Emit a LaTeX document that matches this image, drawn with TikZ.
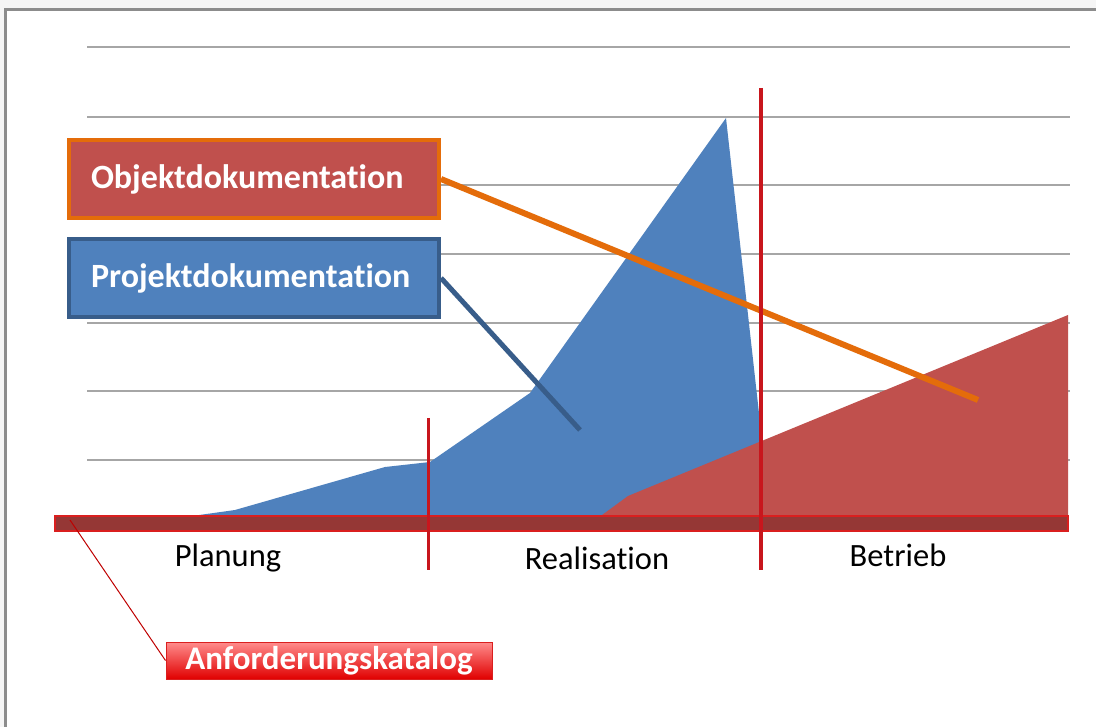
\documentclass[tikz,border=0pt]{standalone}
\usepackage{fontspec}
\setmainfont{Carlito}[Ligatures=NoCommon]
\definecolor{blauflaeche}{HTML}{4F81BD}
\definecolor{blaurand}{HTML}{385D8A}
\definecolor{rotflaeche}{HTML}{C0504D}
\definecolor{orangerand}{HTML}{E46C0A}
\definecolor{balken}{HTML}{953735}
\definecolor{balkenrand}{HTML}{DA1F1F}
\definecolor{phasenrot}{HTML}{C8161D}
\definecolor{gitter}{HTML}{A6A6A6}
\definecolor{rahmen}{HTML}{8C8C8C}
\definecolor{hintergrund}{HTML}{F5F5F5}

\begin{document}
\begin{tikzpicture}[x=1pt,y=-1pt,
		kasten/.style={rectangle, line width=4, minimum height=78, text width=326, inner xsep=22, inner ysep=0, text=white, align=left, font=\fontsize{34}{40}\selectfont\bfseries},
		phase/.style={font=\fontsize{32.5}{39}\selectfont}]
			\useasboundingbox (0,0) rectangle (1096,727);
			\fill [hintergrund] (0,0) rectangle (1096,727);
			\draw [rahmen, fill=white, line width=3] (5,10) rectangle (1110,740);
			\foreach \y in {47,117,185,254,323,391,460}
				\draw [gitter, line width=2] (87,\y) -- (1070,\y);
			\fill [blauflaeche] (185,517) -- (235,510) -- (385,467) -- (430,462) -- (530,393) -- (726,118) -- (762,440) -- (762,517) -- cycle;
			\fill [rotflaeche] (598,518) -- (628,496) -- (1068,315) -- (1068,518) -- cycle;
			\draw [balkenrand, fill=balken, line width=1.5] (55,516) rectangle (1068,531);
			\node [kasten, draw=orangerand, fill=rotflaeche] (obj) at (254,179) {Objektdokumentation};
			\node [kasten, draw=blaurand, fill=blauflaeche] (proj) at (254,278) {Projektdokumentation};
			\coordinate (objend) at (978,400);
			\coordinate (projend) at (580,430);
			\draw [orangerand, line width=6] (obj.east) -- (objend);
			\draw [blaurand, line width=5] (proj.east) -- (projend);
			\draw [phasenrot, line width=3] (428,418) -- (428,570);
			\draw [phasenrot, line width=3.5] (761,88) -- (761,570);
			\node [phase] (planung) at (228,558) {Planung};
			\node [phase] (realisation) at (597,558) {Realisation};
			\node [phase] (betrieb) at (898,555) {Betrieb};
			\node [draw=balkenrand, line width=1, top color=red!45!white, bottom color=red!88!black, minimum width=326, minimum height=37, inner sep=0, text=white, font=\fontsize{33}{40}\selectfont\bfseries] (anf) at (329,660.5) {Anforderungskatalog};
			\coordinate (katalog) at (70,520);
			\draw [red!75!black, line width=1] (katalog) -- (anf.west);
		\end{tikzpicture}
\end{document}
